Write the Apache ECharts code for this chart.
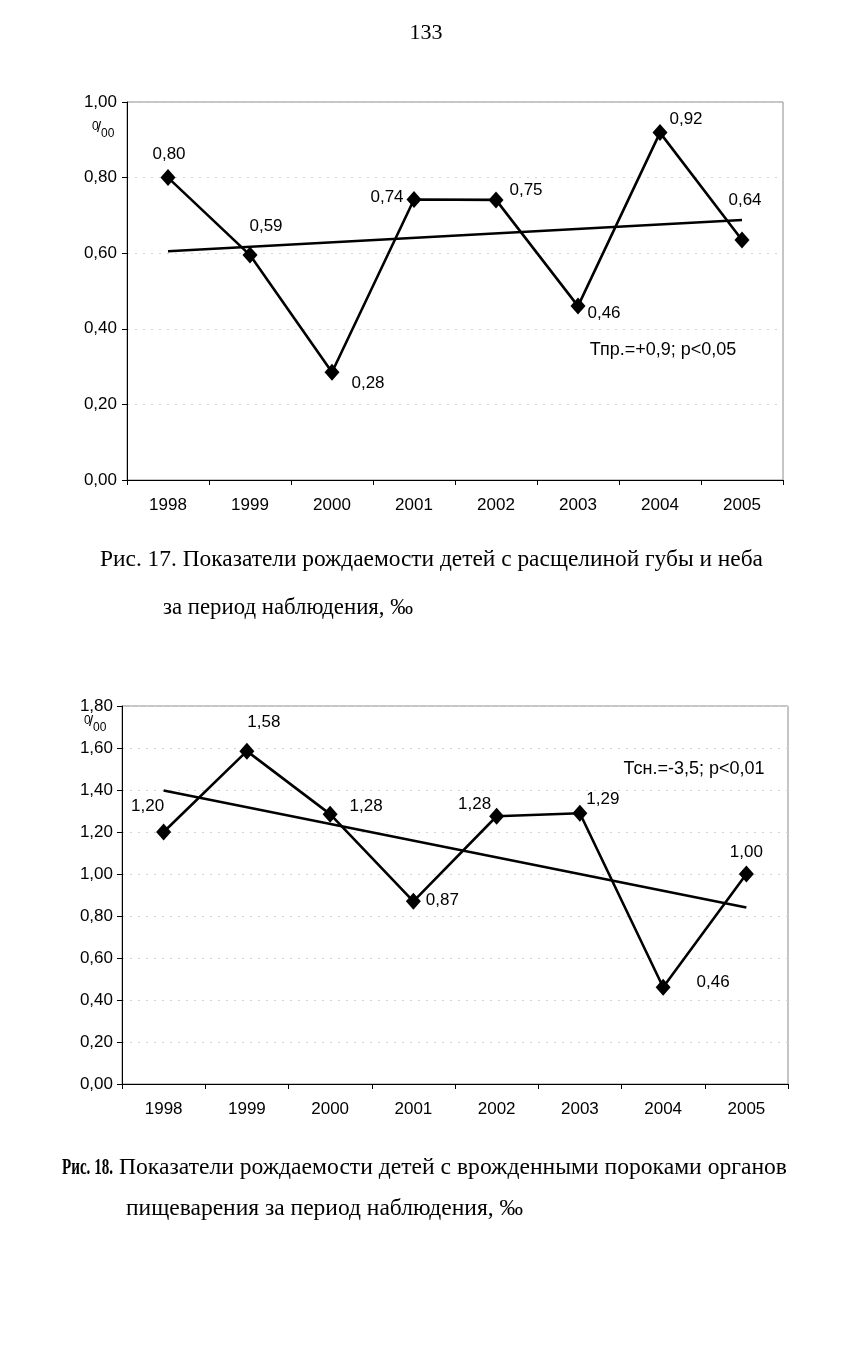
<!DOCTYPE html>
<html><head><meta charset="utf-8">
<script src="https://cdn.jsdelivr.net/npm/echarts@6/dist/echarts.min.js"></script>
<style>html,body{margin:0;padding:0;background:#fff}#c{width:852px;height:1350px}</style>
</head><body><div id="c"></div>
<script>
// ---- data ----
const years = ['1998','1999','2000','2001','2002','2003','2004','2005'];
const cleftValues = [0.80, 0.595, 0.285, 0.742, 0.741, 0.46, 0.919, 0.635];
const cleftLabels = ['0,80','0,59','0,28','0,74','0,75','0,46','0,92','0,64'];
const cleftTrend = [0.605, null, null, null, null, null, null, 0.688];
const digestValues = [1.20, 1.585, 1.285, 0.87, 1.275, 1.289, 0.461, 1.00];
const digestLabels = ['1,20','1,58','1,28','0,87','1,28','1,29','0,46','1,00'];
const digestTrend = [1.398, null, null, null, null, null, null, 0.84];
const cleftTicks = {min: 0, max: 1.0, interval: 0.2};
const digestTicks = {min: 0, max: 1.8, interval: 0.2};

// ---- label placement (styling, kept apart from data) ----
const cleftLabelOffsets = [[1,-23],[16,-29],[36,11],[-27,-2],[30,-10],[26,7],[26,-13],[3,-40]];
const digestLabelOffsets = [[-16,-26],[17,-29],[36,-8],[29,-1],[-22,-12],[23,-14],[50,-5],[0,-22]];

const SANS = 'Liberation Sans, Arial, sans-serif';
const SERIF = 'Liberation Serif, Times New Roman, serif';
const fmt = v => v.toFixed(2).replace('.', ',');

const measureCtx = document.createElement('canvas').getContext('2d');
function fitText(text, x, y, size, targetWidth, weight){
  const font = (weight ? weight + ' ' : '') + size + 'px ' + SERIF;
  measureCtx.font = font;
  const w = measureCtx.measureText(text).width;
  return {type:'text', x:x, y:y, scaleX: targetWidth / w,
    style:{text:text, font:font, fill:'#000', verticalAlign:'middle'}};
}

function xAx(i){
  return {gridIndex:i, type:'category', data:years, boundaryGap:true,
    axisLine:{lineStyle:{color:'#000', width:1}},
    axisTick:{show:true, length:5, lineStyle:{color:'#000'}},
    axisLabel:{fontSize:17, fontFamily:SANS, color:'#000', margin:17},
    splitLine:{show:false}};
}
function yAx(i, t, margin){
  return {gridIndex:i, type:'value', min:t.min, max:t.max, interval:t.interval,
    axisLine:{show:true, lineStyle:{color:'#000', width:1}},
    axisTick:{show:true, length:5, lineStyle:{color:'#000'}},
    axisLabel:{fontSize:17, fontFamily:SANS, color:'#000', margin:margin, formatter:fmt},
    splitLine:{show:true, lineStyle:{color:'#d4d4d4', type:[2,6], width:1}}};
}
function dataSeries(i, vals, labels, offs){
  return {type:'line', xAxisIndex:i, yAxisIndex:i, symbol:'diamond', symbolSize:[15,17],
    itemStyle:{color:'#000'}, lineStyle:{color:'#000', width:2.6}, z:5,
    data: vals.map((v,k)=>({value:v, label:{show:true, position:'inside', offset:offs[k],
      formatter:labels[k], fontSize:17, fontFamily:SANS, color:'#000'}}))};
}
function trendSeries(i, vals){
  return {type:'line', xAxisIndex:i, yAxisIndex:i, data:vals, connectNulls:true,
    symbol:'none', lineStyle:{color:'#000', width:2.6}, z:4};
}
function unitMark(x, y){
  return [
    {type:'text', left:x, top:y, style:{text:'0', font:'12px '+SANS, fill:'#000'}},
    {type:'text', left:x+5, top:y-1, style:{text:'/', font:'15px '+SANS, fill:'#000'}},
    {type:'text', left:x+9, top:y+7, style:{text:'00', font:'12px '+SANS, fill:'#000'}}
  ];
}

const chart = echarts.init(document.getElementById('c'), null, {renderer:'canvas'});
chart.setOption({
  animation:false,
  backgroundColor:'#fff',
  grid:[
    {left:127, top:102, width:656, height:378, show:true, borderColor:'#8c8c8c', borderWidth:1},
    {left:122, top:706, width:666, height:378, show:true, borderColor:'#8c8c8c', borderWidth:1}
  ],
  xAxis:[xAx(0), xAx(1)],
  yAxis:[yAx(0, cleftTicks, 10), yAx(1, digestTicks, 9)],
  series:[
    trendSeries(0, cleftTrend),
    dataSeries(0, cleftValues, cleftLabels, cleftLabelOffsets),
    trendSeries(1, digestTrend),
    dataSeries(1, digestValues, digestLabels, digestLabelOffsets)
  ],
  graphic:[
    {type:'text', x:426, y:33, style:{text:'133', font:'22px '+SERIF, fill:'#000', align:'center', verticalAlign:'middle'}},
    ...unitMark(92, 121),
    ...unitMark(84, 715),
    {type:'text', x:663, y:350, style:{text:'Тпр.=+0,9; р<0,05', font:'18px '+SANS, fill:'#000', align:'center', verticalAlign:'middle'}},
    {type:'text', x:694, y:769, style:{text:'Тсн.=-3,5; р<0,01', font:'18px '+SANS, fill:'#000', align:'center', verticalAlign:'middle'}},
    fitText('Рис. 17. Показатели рождаемости детей с расщелиной губы и неба', 100, 560, 24, 663),
    fitText('за период наблюдения, ‰', 163, 608, 24, 250),
    fitText('Рис. 18.', 62, 1168, 24, 51, 'bold'),
    fitText('Показатели рождаемости детей с врожденными пороками органов', 119, 1168, 24, 668),
    fitText('пищеварения за период наблюдения, ‰', 126, 1209, 24, 397)
  ]
});
</script></body></html>
